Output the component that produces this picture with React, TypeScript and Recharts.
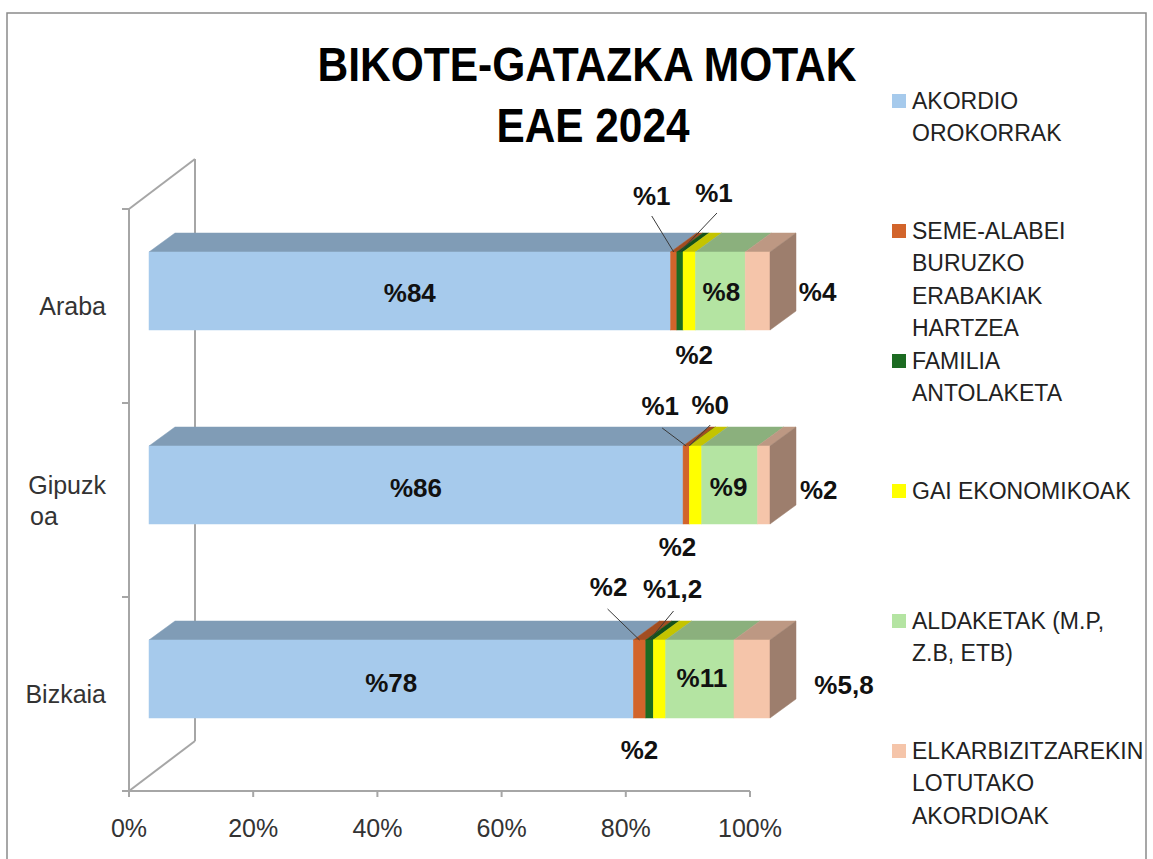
import React from "react";
import { BarChart, Bar, XAxis, YAxis } from "recharts";

// values (percent)
const categories = ["Araba", "Gipuzkoa", "Bizkaia"];
const seriesNames = [
  "AKORDIO OROKORRAK",
  "SEME-ALABEI BURUZKO ERABAKIAK HARTZEA",
  "FAMILIA ANTOLAKETA",
  "GAI EKONOMIKOAK",
  "ALDAKETAK (M.P, Z.B, ETB)",
  "ELKARBIZITZAREKIN LOTUTAKO AKORDIOAK",
];
const akordio = [84, 86, 78];
const semeAlabei = [1, 1, 2];
const familia = [1, 0, 1.2];
const gaiEkonomikoak = [2, 2, 2];
const aldaketak = [8, 9, 11];
const elkarbizitza = [4, 2, 5.8];
const xTicks = [0, 20, 40, 60, 80, 100];

// how the legend / axis wrap their texts
const legendLines = [
  ["AKORDIO", "OROKORRAK"],
  ["SEME-ALABEI", "BURUZKO", "ERABAKIAK", "HARTZEA"],
  ["FAMILIA", "ANTOLAKETA"],
  ["GAI EKONOMIKOAK"],
  ["ALDAKETAK (M.P,", "Z.B, ETB)"],
  ["ELKARBIZITZAREKIN", "LOTUTAKO", "AKORDIOAK"],
];
const categoryLines: Record<string, string[]> = {
  Gipuzkoa: ["Gipuzk", "oa"],
};

const values = [akordio, semeAlabei, familia, gaiEkonomikoak, aldaketak, elkarbizitza];
const colors = ["#A6CAEC", "#D2642B", "#1C6B22", "#FFFF00", "#B4E4A2", "#F5C5AA"];
const keys = values.map((_, i) => `s${i}`);

const data = categories.map((cat, ci) => {
  const row: Record<string, any> = { cat };
  values.forEach((arr, si) => (row[keys[si]] = arr[ci]));
  return row;
});

// layout
const W = 1153;
const H = 859;
const PLOT = { left: 129, right: 750, top: 209, bottom: 791 };
const Y_AXIS_W = 120;
const X_AXIS_H = 50;
const FRONT = { dx: 20, dy: -15 };
const DEPTH = { dx: 26, dy: -19 };
const WALL = { dx: 66, dy: -50 };
const GRID = "#A6A6A6";
const FONT = "'Liberation Sans', Arial, sans-serif";

// label placement relative to the centre of each segment's front face
type Place = { dx: number; dy: number; lead?: [number, number] };
const labelPlace: Place[][] = [
  [{ dx: 0, dy: 2 }, { dx: 0, dy: 3 }, { dx: 0, dy: 4 }],
  [
    { dx: -22, dy: -95, lead: [0, 20] },
    { dx: -26, dy: -79, lead: [2, 22] },
    { dx: -31, dy: -92, lead: [-1, 22] },
  ],
  [
    { dx: 34, dy: -98, lead: [3, 20] },
    { dx: 21, dy: -80, lead: [0, 20] },
    { dx: 23, dy: -90, lead: [1, 22] },
  ],
  [{ dx: 5, dy: 64 }, { dx: -18, dy: 62 }, { dx: -20, dy: 71 }],
  [{ dx: 1, dy: 1 }, { dx: -1, dy: 2 }, { dx: 2, dy: -1 }],
  [{ dx: 60, dy: 1 }, { dx: 55, dy: 5 }, { dx: 92, dy: 6 }],
];

const shade = (hex: string, f: number) => {
  const n = parseInt(hex.slice(1), 16);
  const r = Math.round(((n >> 16) & 255) * f);
  const g = Math.round(((n >> 8) & 255) * f);
  const b = Math.round((n & 255) * f);
  return `rgb(${r},${g},${b})`;
};

const fmt = (v: number) => "%" + String(v).replace(".", ",");

// 3D block: front face, top face, and side face for the last segment
const makeShape = (color: string, withSide: boolean) => (p: any) => {
  const { x, y, width, height } = p;
  if (x == null || y == null) return <g />;
  const w = Math.max(width || 0, 0);
  const fx = x + FRONT.dx;
  const fy = y + FRONT.dy;
  const top = `${fx},${fy} ${fx + w},${fy} ${fx + w + DEPTH.dx},${fy + DEPTH.dy} ${fx + DEPTH.dx},${fy + DEPTH.dy}`;
  const side = `${fx + w},${fy} ${fx + w + DEPTH.dx},${fy + DEPTH.dy} ${fx + w + DEPTH.dx},${fy + height + DEPTH.dy} ${fx + w},${fy + height}`;
  const topFill = shade(color, 0.77);
  const sideFill = shade(color, 0.64);
  return (
    <g>
      <polygon points={top} fill={topFill} stroke={topFill} strokeWidth={0.5} />
      <rect x={fx} y={fy} width={w} height={height} fill={color} stroke={color} strokeWidth={0.5} />
      {withSide && <polygon points={side} fill={sideFill} stroke={sideFill} strokeWidth={0.5} />}
    </g>
  );
};

const makeLabel = (si: number) => (p: any) => {
  const idx = categories.indexOf(p.payload?.cat);
  if (idx < 0 || p.x == null) return <g />;
  const place = labelPlace[si][idx];
  const fx = p.x + FRONT.dx;
  const fy = p.y + FRONT.dy;
  const cx = fx + (p.width || 0) / 2;
  const cy = fy + p.height / 2;
  const tx = cx + place.dx;
  const ty = cy + place.dy;
  return (
    <g>
      {place.lead && (
        <line
          x1={tx + place.lead[0]}
          y1={ty + place.lead[1]}
          x2={cx}
          y2={fy}
          stroke="#3a3a3a"
          strokeWidth={1}
        />
      )}
      <text
        x={tx}
        y={ty + 9}
        textAnchor="middle"
        fontFamily={FONT}
        fontWeight="bold"
        fontSize={26}
        fill="#111"
      >
        {fmt(values[si][idx])}
      </text>
    </g>
  );
};

const XTick = (p: any) => (
  <text x={p.x} y={837} textAnchor="middle" fontFamily={FONT} fontSize={25} fill="#333">
    {p.payload.value}%
  </text>
);

const YTick = (p: any) => {
  const name = p.payload.value;
  const lines = categoryLines[name];
  if (!lines) {
    return (
      <text x={106} y={p.y + 9} textAnchor="end" fontFamily={FONT} fontSize={25} fill="#333">
        {name}
      </text>
    );
  }
  return (
    <g>
      <text x={106} y={p.y - 15 + 9} textAnchor="end" fontFamily={FONT} fontSize={25} fill="#333">
        {lines[0]}
      </text>
      <text x={30} y={p.y + 16 + 9} textAnchor="start" fontFamily={FONT} fontSize={25} fill="#333">
        {lines[1]}
      </text>
    </g>
  );
};

const Background = () => {
  const band = (PLOT.bottom - PLOT.top) / categories.length;
  const bx = PLOT.left + WALL.dx;
  return (
    <svg width={W} height={H} style={{ position: "absolute", left: 0, top: 0 }}>
      <rect x={7} y={13} width={1139} height={870} fill="#fff" stroke="#8a8a8a" strokeWidth={1.5} />
      <text x={587} y={81} textAnchor="middle" fontFamily={FONT} fontWeight="bold" fontSize={48} fill="#000" textLength={539} lengthAdjust="spacingAndGlyphs">
        BIKOTE-GATAZKA MOTAK
      </text>
      <text x={593} y={142} textAnchor="middle" fontFamily={FONT} fontWeight="bold" fontSize={48} fill="#000" textLength={193} lengthAdjust="spacingAndGlyphs">
        EAE 2024
      </text>
      {/* 3D side wall */}
      <g stroke={GRID} strokeWidth={2} fill="none">
        <line x1={PLOT.left} y1={PLOT.top} x2={bx} y2={PLOT.top + WALL.dy} />
        <line x1={bx} y1={PLOT.top + WALL.dy} x2={bx} y2={PLOT.bottom + WALL.dy} />
        <line x1={PLOT.left} y1={PLOT.bottom} x2={bx} y2={PLOT.bottom + WALL.dy} />
        {Array.from({ length: categories.length + 1 }).map((_, k) => (
          <line key={k} x1={PLOT.left - 7} y1={PLOT.top + k * band} x2={PLOT.left} y2={PLOT.top + k * band} />
        ))}
      </g>
      {/* legend */}
      {seriesNames.map((name, i) => (
        <g key={name}>
          <rect x={892} y={94 + i * 130} width={14} height={14} fill={colors[i]} />
          {legendLines[i].map((line, j) => (
            <text key={j} x={912} y={109 + i * 130 + j * 32.3} fontFamily={FONT} fontSize={23} fill="#222">
              {line}
            </text>
          ))}
        </g>
      ))}
    </svg>
  );
};

export default function App() {
  return (
    <div style={{ position: "absolute", left: 0, top: 0, width: W, height: H }}>
      <Background />
      <div style={{ position: "absolute", left: 0, top: 0 }}>
        <BarChart
          width={W}
          height={H}
          data={data}
          layout="vertical"
          barSize={78}
          margin={{
            top: PLOT.top,
            right: W - PLOT.right,
            bottom: H - PLOT.bottom - X_AXIS_H,
            left: PLOT.left - Y_AXIS_W,
          }}
        >
          <XAxis
            type="number"
            domain={[0, 100]}
            ticks={xTicks}
            interval={0}
            height={X_AXIS_H}
            axisLine={{ stroke: GRID, strokeWidth: 2 }}
            tickLine={{ stroke: GRID, strokeWidth: 2 }}
            tickSize={6}
            tick={(p: any) => <XTick {...p} />}
          />
          <YAxis
            type="category"
            dataKey="cat"
            width={Y_AXIS_W}
            axisLine={{ stroke: GRID, strokeWidth: 2 }}
            tickLine={false}
            tick={(p: any) => <YTick {...p} />}
          />
          {keys.map((k, i) => (
            <Bar
              key={k}
              dataKey={k}
              name={seriesNames[i]}
              stackId="a"
              fill={colors[i]}
              isAnimationActive={false}
              shape={makeShape(colors[i], i === keys.length - 1)}
            />
          ))}
        </BarChart>
      </div>
      <div style={{ position: "absolute", left: 0, top: 0 }}>
        <BarChart
          width={W}
          height={H}
          data={data}
          layout="vertical"
          barSize={78}
          margin={{ top: PLOT.top, right: W - PLOT.right, bottom: H - PLOT.bottom, left: PLOT.left }}
        >
          <XAxis type="number" domain={[0, 100]} hide />
          <YAxis type="category" dataKey="cat" hide />
          {keys.map((k, i) => (
            <Bar
              key={k}
              dataKey={k}
              stackId="a"
              fill="none"
              isAnimationActive={false}
              shape={makeLabel(i)}
            />
          ))}
        </BarChart>
      </div>
    </div>
  );
}
